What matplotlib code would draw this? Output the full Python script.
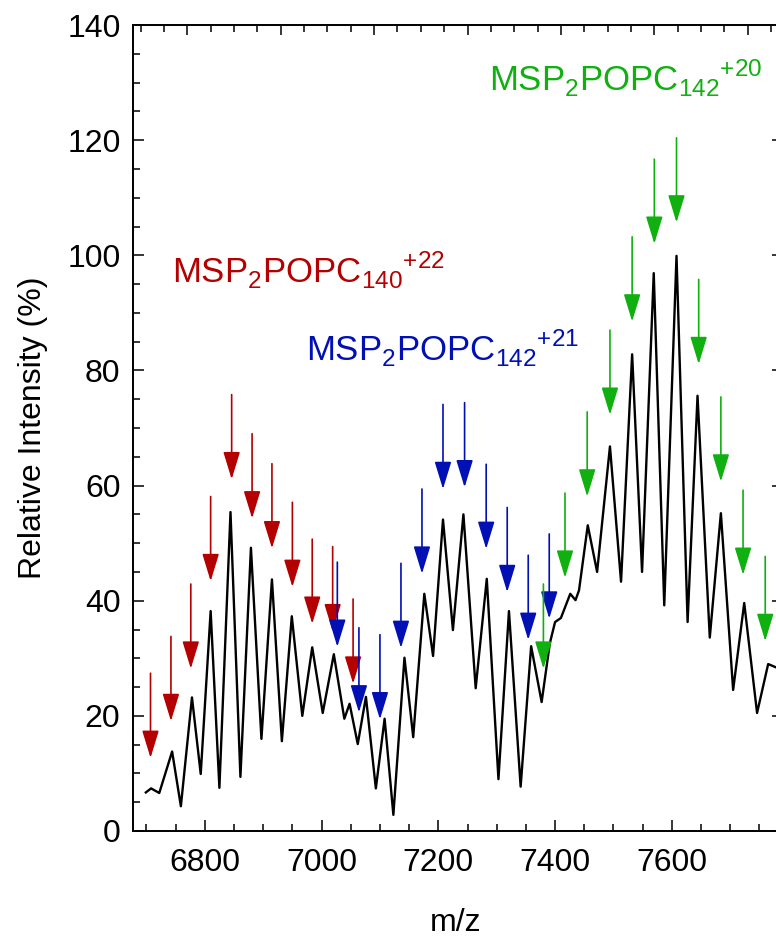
import numpy as np
import matplotlib
matplotlib.use('Agg')
import matplotlib.pyplot as plt
from matplotlib.ticker import MultipleLocator, FixedLocator

plt.rcParams['font.family'] = ['Liberation Sans', 'DejaVu Sans']
plt.rcParams['mathtext.fontset'] = 'custom'
plt.rcParams['mathtext.rm'] = 'Liberation Sans'

# spectrum (m/z, relative intensity %)
mz = [6699, 6708, 6722, 6744, 6759, 6778, 6793, 6810, 6825, 6844, 6861, 6879,
      6897, 6915, 6932, 6949, 6967, 6984, 7002, 7021, 7039, 7048, 7062, 7076,
      7093, 7108, 7123, 7142, 7157, 7176, 7191, 7208, 7225, 7243, 7264, 7283,
      7303, 7321, 7341, 7359, 7377, 7391, 7400, 7410, 7426, 7435, 7441, 7456,
      7472, 7494, 7513, 7532, 7549, 7569, 7587, 7608, 7627, 7644, 7665, 7684,
      7705, 7724, 7746, 7765, 7779]
intensity = [6.7, 7.4, 6.6, 13.8, 4.3, 23.2, 9.9, 38.2, 7.5, 55.4, 9.4, 49.2,
             16.0, 43.7, 15.6, 37.3, 20.0, 31.9, 20.5, 30.7, 19.5, 22.1, 15.1, 23.3,
             7.4, 19.5, 2.8, 30.1, 16.3, 41.2, 30.4, 54.1, 34.9, 55.0, 24.8, 43.8,
             9.0, 38.2, 7.7, 32.1, 22.4, 32.6, 36.3, 37.0, 41.2, 40.1, 41.8, 53.1,
             45.0, 66.8, 43.3, 82.8, 45.0, 96.9, 39.2, 99.9, 36.3, 75.6, 33.6, 55.2,
             24.5, 39.6, 20.5, 29.0, 28.4]

# arrow positions (m/z) and tip heights
red_x = [6707, 6742, 6776, 6810, 6846, 6881, 6915, 6950, 6984, 7019, 7054]
red_tip = [12.7, 19.1, 28.2, 43.4, 61.1, 54.3, 49.1, 42.4, 36.0, 34.7, 25.6]
blue_x = [7027, 7064, 7100, 7136, 7172, 7208, 7245, 7282, 7318, 7354, 7390]
blue_tip = [32.0, 20.6, 19.4, 31.8, 44.7, 59.4, 59.7, 49.0, 41.5, 33.2, 36.9]
green_x = [7380, 7417, 7455, 7494, 7532, 7570, 7608, 7646, 7684, 7722, 7760]
green_tip = [28.2, 44.0, 58.1, 72.3, 88.5, 102.0, 105.7, 81.1, 60.7, 44.5, 33.0]

labels = [
    ('MSP$_\\mathregular{2}$POPC$_\\mathregular{140}$$^\\mathregular{+22}$', 6743, 95.3, '#b40000'),
    ('MSP$_\\mathregular{2}$POPC$_\\mathregular{142}$$^\\mathregular{+21}$', 6974, 81.7, '#0010b4'),
    ('MSP$_\\mathregular{2}$POPC$_\\mathregular{142}$$^\\mathregular{+20}$', 7287, 128.6, '#10b010'),
]

fig = plt.figure(figsize=(7.76, 9.38), dpi=100)
ax = fig.add_axes([133 / 776, 1 - 831 / 938, 644.5 / 776, 806 / 938])

ax.plot(mz, intensity, color='black', lw=1.7, solid_joinstyle='round')

arrow_len = 14.7
for xs, tips, col in [(red_x, red_tip, '#b40000'), (blue_x, blue_tip, '#0010b4'),
                      (green_x, green_tip, '#10b010')]:
    for x, t in zip(xs, tips):
        ax.annotate('', xy=(x, t), xytext=(x, t + arrow_len),
                    arrowprops=dict(arrowstyle='-|>,head_length=17,head_width=5.2',
                                    mutation_scale=1, color=col, lw=1.2,
                                    shrinkA=0, shrinkB=0))

for txt, x, y, col in labels:
    ax.text(x, y, txt, color=col, fontsize=25, ha='left', va='baseline')

ax.set_xlim(6677, 7781)
ax.set_ylim(0, 140)

ax.xaxis.set_major_locator(MultipleLocator(200))
ax.xaxis.set_minor_locator(MultipleLocator(50))
ax.yaxis.set_major_locator(MultipleLocator(20))
ax.yaxis.set_minor_locator(MultipleLocator(5))
ax.tick_params(which='both', direction='in', top=False, right=False,
               labelsize=23, width=1.1)
ax.tick_params(which='major', length=8, pad=9)
ax.tick_params(which='minor', length=4.8)
ax.tick_params(axis='x', which='major', pad=12)

# top axis ticks
axt = ax.twiny()
axt.set_xlim(ax.get_xlim())
axt.xaxis.set_major_locator(FixedLocator(np.arange(6770, 7790, 160)))
axt.xaxis.set_minor_locator(FixedLocator(np.arange(6690, 7790, 40)))
axt.tick_params(which='both', direction='in', labeltop=False, width=1.1)
axt.tick_params(which='major', length=7.5)
axt.tick_params(which='minor', length=4.8)

# right axis ticks
axr = ax.twinx()
axr.set_ylim(0, 140)
axr.yaxis.set_major_locator(MultipleLocator(20))
axr.tick_params(direction='in', labelright=False, length=4, width=1.1)

for a in (ax, axt, axr):
    for s in a.spines.values():
        s.set_linewidth(1.1)

ax.set_xlabel('m/z', fontsize=23, labelpad=22)
ax.set_ylabel('Relative Intensity (%)', fontsize=23, labelpad=14)

fig.savefig('out.png', dpi=100)
